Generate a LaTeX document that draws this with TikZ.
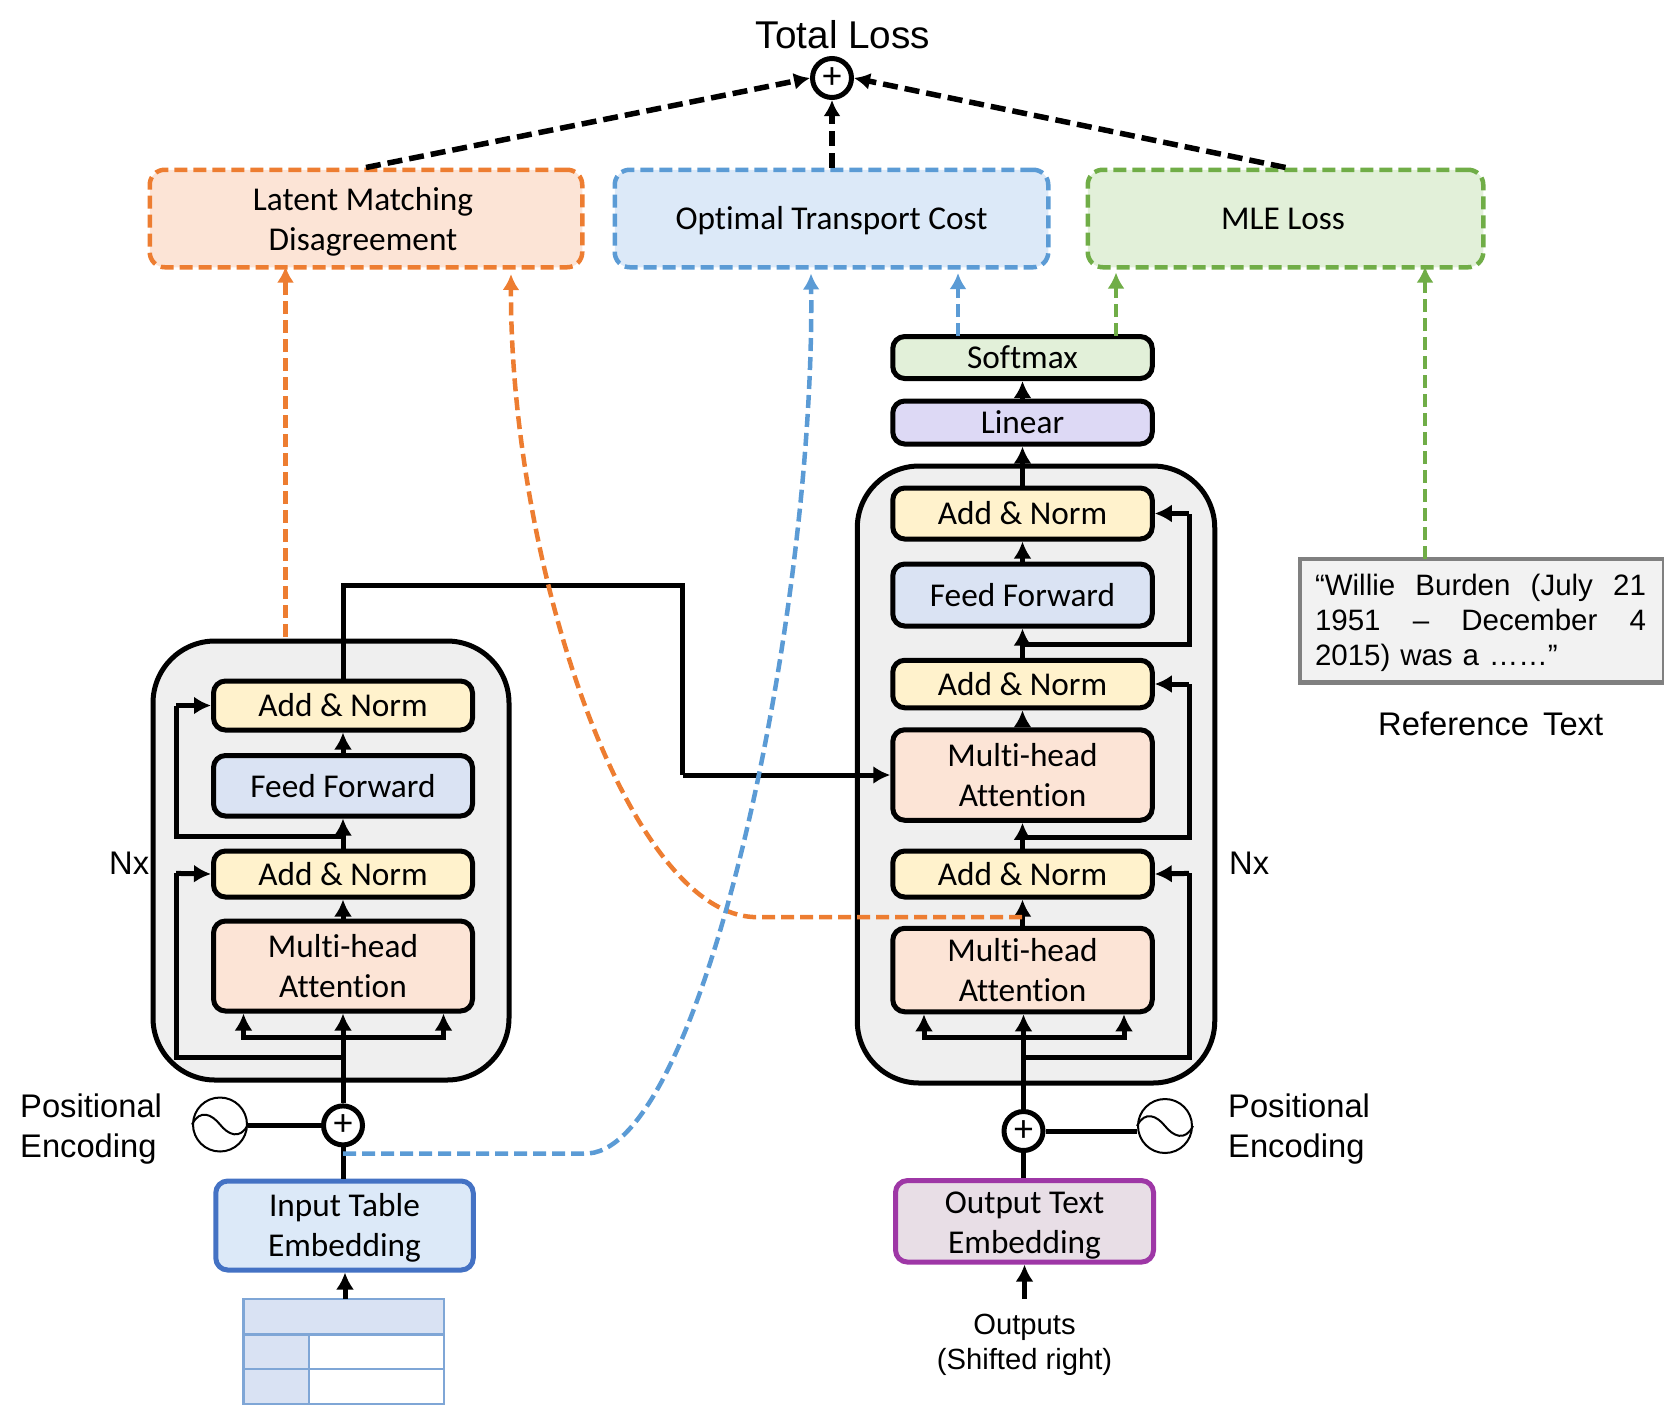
\documentclass[tikz,border=0pt]{standalone}
\usepackage{fontspec}
\setmainfont{Carlito}[Ligatures=NoCommon]
\newfontfamily\arialfont{Liberation Sans}
\usetikzlibrary{arrows.meta}
\definecolor{addfill}{HTML}{FFF2CC}
\definecolor{feedfill}{HTML}{DAE3F3}
\definecolor{mhafill}{HTML}{FCE4D6}
\definecolor{softfill}{HTML}{E2F0D9}
\definecolor{linfill}{HTML}{DDD9F5}
\definecolor{stackfill}{HTML}{EFEFEF}
\definecolor{bluefill}{HTML}{DCE9F8}
\definecolor{outfill}{HTML}{E8DEE6}
\definecolor{orangeline}{HTML}{ED7D31}
\definecolor{blueline}{HTML}{5B9BD5}
\definecolor{greenline}{HTML}{70AD47}
\definecolor{purpleline}{HTML}{9E37A6}
\definecolor{inline}{HTML}{4472C4}
\definecolor{tabline}{HTML}{7FA6D6}
\definecolor{tabfill}{HTML}{D9E2F3}
\newcommand{\dropline}[1]{\rule{0pt}{#1}}
\tikzset{
  block/.style={draw=black,line width=5pt,rounded corners=12pt,align=center,
    font=\fontsize{33.3}{40}\selectfont,inner sep=0pt},
  lossbox/.style={block,line width=4.5pt,rounded corners=15pt,dash pattern=on 13pt off 6pt},
  stack/.style={draw=black,line width=5pt,rounded corners=62pt,fill=stackfill},
  plusnode/.style={draw=black,circle,line width=5pt,fill=white,minimum size=39pt,
    inner sep=0pt,font=\fontsize{38}{38}\selectfont},
  sinenode/.style={draw=black,circle,line width=2pt,fill=white,minimum size=54pt,inner sep=0pt},
  plain/.style={inner sep=0pt,font=\arialfont\fontsize{32.7}{40}\selectfont,align=left},
  arrow/.style={line width=5pt,-{Latex[length=17pt,width=18pt]}},
  wire/.style={line width=5pt},
  lossarrow/.style={line width=4.5pt,dash pattern=on 13pt off 6pt,-{Latex[length=16pt,width=17pt]}},
  totalarrow/.style={lossarrow,line width=5.5pt,dash pattern=on 15pt off 7pt},
}
\begin{document}
\begin{tikzpicture}[x=1pt,y=-1pt]
  \useasboundingbox (0,0) rectangle (1664,1406);
  % stacks
  \node[stack,minimum width=356pt,minimum height=439pt] (stackE) at (331,860.5) {};
  \node[stack,minimum width=357.5pt,minimum height=617pt] (stackD) at (1036,774.5) {};
  % encoder
  \node[block,fill=addfill,minimum width=259pt,minimum height=49pt] (addE1) at (343,705.5) {Add \& Norm};
  \node[block,fill=feedfill,minimum width=259pt,minimum height=60.5pt] (feedE) at (343,785.75) {Feed Forward};
  \node[block,fill=addfill,minimum width=259pt,minimum height=46pt] (addE0) at (343,874) {Add \& Norm};
  \node[block,fill=mhafill,minimum width=259pt,minimum height=90pt] (mhaE) at (343,966) {Multi-head\\Attention};
  \node[plusnode] (plusE) at (343,1125.4) {+};
  \node[sinenode] (sineE) at (220,1124.5) {};
  \node[block,fill=bluefill,draw=inline,minimum width=257.5pt,minimum height=89pt] (inE) at (344.5,1225.5) {\dropline{28pt}Input Table\\Embedding};
  % decoder
  \node[block,fill=softfill,minimum width=259.5pt,minimum height=42pt] (softD) at (1022.5,357.5) {Softmax};
  \node[block,fill=linfill,minimum width=259.5pt,minimum height=43pt] (linD) at (1022.5,422.5) {Linear};
  \node[block,fill=addfill,minimum width=259.5pt,minimum height=51pt] (addD2) at (1022.5,513.5) {Add \& Norm};
  \node[block,fill=feedfill,minimum width=259.5pt,minimum height=62pt] (feedD) at (1022.5,595) {Feed Forward};
  \node[block,fill=addfill,minimum width=259.5pt,minimum height=47.5pt] (addD1) at (1022.5,684) {Add \& Norm};
  \node[block,fill=mhafill,minimum width=259.5pt,minimum height=90.5pt] (mhaD1) at (1022.5,775) {Multi-head\\Attention};
  \node[block,fill=addfill,minimum width=259.5pt,minimum height=46pt] (addD0) at (1022.5,874) {Add \& Norm};
  \node[block,fill=mhafill,minimum width=259.5pt,minimum height=83.5pt] (mhaD0) at (1022.5,970) {Multi-head\\Attention};
  \node[plusnode] (plusD) at (1023.5,1131) {+};
  \node[sinenode] (sineD) at (1165,1126) {};
  \node[block,fill=outfill,draw=purpleline,minimum width=258pt,minimum height=81.5pt] (outD) at (1024.5,1221.3) {\dropline{31pt}Output Text\\Embedding};
  % losses
  \node[plusnode] (plusT) at (832,78) {+};
  \node[lossbox,fill=mhafill,draw=orangeline,minimum width=432.5pt,minimum height=97.5pt] (lossL) at (366,218.5) {\dropline{30pt}\hspace*{-6pt}Latent Matching\\\hspace*{-6pt}Disagreement};
  \node[lossbox,fill=bluefill,draw=blueline,minimum width=433.5pt,minimum height=97.5pt] (lossO) at (831.5,218.5) {\dropline{28pt}Optimal Transport Cost};
  \node[lossbox,fill=softfill,draw=greenline,minimum width=395.5pt,minimum height=97.5pt] (lossM) at (1285.5,218.5) {\hspace*{-5pt}MLE Loss};
  \node[draw=black!50,fill=black!5,line width=4.5pt,minimum width=364pt,minimum height=123.5pt,inner sep=0pt] (refbox) at (1482,620.7) {};
  \node[plain,text width=331pt,font=\arialfont\fontsize{29.5}{35}\selectfont] (reftext) at (1480.5,622.6) {%
    \makebox[331pt]{“Willie\hfill Burden\hfill (July\hfill 21}\\
    \makebox[331pt]{1951\hfill –\hfill December\hfill 4}\\
    2015) was a ……”};
  % labels
  \node[plain,font=\arialfont\fontsize{38.7}{38.7}\selectfont] (total) at (843,35) {Total Loss};
  \node[plain,anchor=west] (nxE) at (109,863.5) {Nx};
  \node[plain,anchor=west] (nxD) at (1229,863.5) {Nx};
  \node[plain,anchor=west] (posE) at (20,1129) {Positional\\Encoding};
  \node[plain,anchor=west] (posD) at (1228,1129) {Positional\\Encoding};
  \node[plain,anchor=west] (reflabel) at (1378,724) {Reference\ \hspace{5pt}Text};
  \node[plain,align=center,font=\arialfont\fontsize{29.2}{35}\selectfont] (outlabel) at (1024.5,1344.5) {Outputs\\(Shifted right)};
  % table
  \fill[tabfill] (243.5,1299) rectangle (444,1334.4);
  \foreach \y/\z in {1334.4/1369,1369/1404} {
    \fill[tabfill] (243.5,\y) rectangle (309,\z);
    \draw[tabline,line width=2.5pt] (243.5,\y) rectangle (309,\z);
    \draw[tabline,line width=2.5pt] (309,\y) rectangle (444,\z);
  }
  \draw[tabline,line width=2.5pt] (243.5,1299) rectangle (444,1334.4);
  \coordinate (tabTop) at (345,1299);
  \coordinate (outFoot) at (1024.5,1298.5);
  % encoder wires
  \coordinate (forkE) at (343,1037.5);
  \coordinate (skipE0) at (343,1057);
  \coordinate (sideE0) at (176,873.4);
  \coordinate (skipE1) at (343,836.6);
  \coordinate (sideE1) at (176,705.5);
  \draw[arrow] (tabTop) -- (inE.south -| tabTop);
  \draw[wire] (inE.north -| plusE) -- (plusE);
  \draw[wire] (sineE.east |- plusE) -- (plusE);
  \draw[arrow] (plusE) -- (mhaE.south);
  \draw[arrow] (forkE) -| (mhaE.south -| 243.5,0);
  \draw[arrow] (forkE) -| (mhaE.south -| 443.5,0);
  \draw[wire] (skipE0) -| (sideE0);
  \draw[arrow] (sideE0) -- (addE0.west);
  \draw[arrow] (mhaE) -- (addE0);
  \draw[arrow] (addE0) -- (feedE);
  \draw[wire] (skipE1) -| (sideE1);
  \draw[arrow] (sideE1) -- (addE1.west);
  \draw[arrow] (feedE) -- (addE1);
  % decoder wires
  \coordinate (forkD) at (1023.5,1037.5);
  \coordinate (skipD0) at (1023.5,1057);
  \coordinate (sideD0) at (1189,873.4);
  \coordinate (skipD1) at (1022.5,837.5);
  \coordinate (sideD1) at (1189,684);
  \coordinate (skipD2) at (1022.5,644);
  \coordinate (sideD2) at (1189,513.5);
  \draw[arrow] (outFoot) -- (outD.south -| outFoot);
  \draw[wire] (outD.north -| plusD) -- (plusD);
  \draw[wire] (sineD.west |- plusD) -- (plusD);
  \draw[arrow] (plusD) -- (mhaD0.south -| plusD);
  \draw[arrow] (forkD) -| (mhaD0.south -| 924,0);
  \draw[arrow] (forkD) -| (mhaD0.south -| 1124,0);
  \draw[wire] (skipD0) -| (sideD0);
  \draw[arrow] (sideD0) -- (addD0.east);
  \draw[arrow] (mhaD0) -- (addD0);
  \draw[arrow] (addD0) -- (mhaD1);
  \draw[wire] (skipD1) -| (sideD1);
  \draw[arrow] (sideD1) -- (addD1.east);
  \draw[arrow] (mhaD1) -- (addD1);
  \draw[arrow] (addD1) -- (feedD);
  \draw[wire] (skipD2) -| (sideD2);
  \draw[arrow] (sideD2) -- (addD2.east);
  \draw[arrow] (feedD) -- (addD2);
  \draw[arrow] (addD2) -- (linD);
  \draw[arrow] (linD) -- (softD);
  % encoder to decoder
  \coordinate (crossA) at (343,585);
  \coordinate (crossB) at (682.7,775);
  \draw[wire] (addE1.north) -- (crossA) -| (crossB);
  \draw[arrow] (crossB) -- (mhaD1.west);
  \foreach \a in {sineE,sineD}{
    \draw[line width=2pt] (\a.west) .. controls +(8,-16) and +(-8,-10) .. (\a.center)
      .. controls +(8,10) and +(-8,16) .. (\a.east);
  }
  % total loss
  \draw[totalarrow] (lossL.north) -- (plusT.west);
  \draw[totalarrow] (lossO.north -| plusT) -- (plusT.south);
  \draw[totalarrow] (lossM.north) -- (plusT.east);
  % dashed links
  \coordinate (latA) at (285.5,637);
  \coordinate (latB) at (1022,917);
  \coordinate (latC) at (753,917);
  \coordinate (latTip) at (511,274);
  \coordinate (blueA) at (343,1153.5);
  \coordinate (blueB) at (583.5,1153.5);
  \coordinate (blueTip) at (811,273.5);
  \coordinate (softO) at (958,336);
  \coordinate (softM) at (1116,336);
  \coordinate (refO) at (1425,559);
  \draw[lossarrow,orangeline] (latA) -- ([yshift=3pt]lossL.south -| latA);
  \draw[lossarrow,orangeline] (latB) -- (latC) .. controls (625,910) and (510,560) .. (latTip);
  \draw[lossarrow,blueline] (blueA) -- (blueB) .. controls (700,1160) and (815,620) .. (blueTip);
  \draw[lossarrow,blueline] (softO) -- (958,273);
  \draw[lossarrow,greenline] (softM) -- (1116,272.5);
  \draw[lossarrow,greenline] (refO) -- ([yshift=3pt]lossM.south -| refO);
\end{tikzpicture}
\end{document}
